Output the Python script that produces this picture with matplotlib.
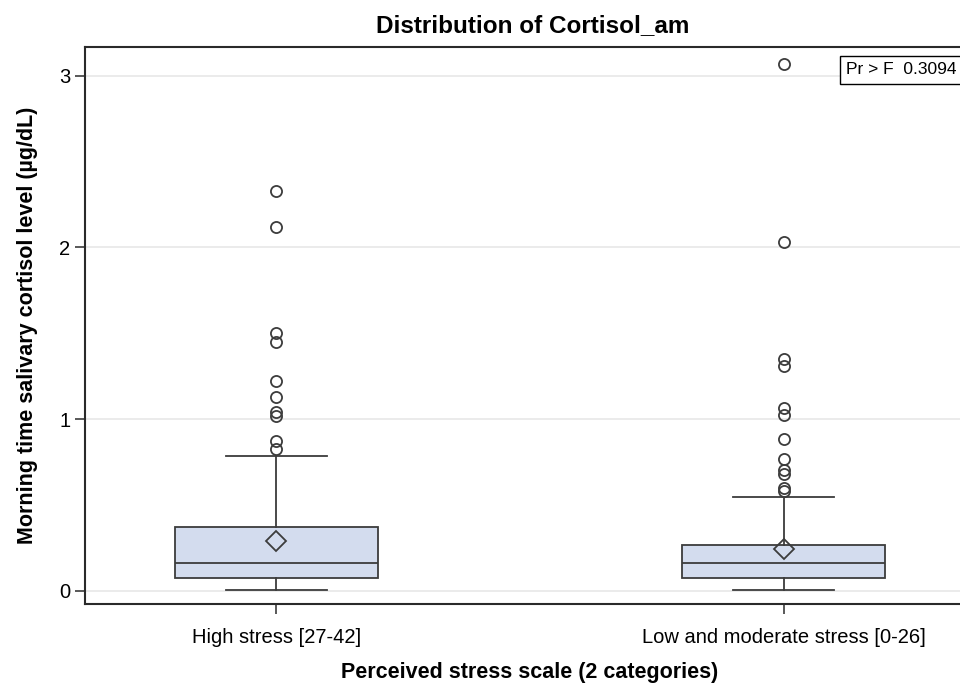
import matplotlib
matplotlib.use("Agg")
from matplotlib import pyplot as plt

plt.rcParams['font.family'] = ['Liberation Sans', 'DejaVu Sans']

groups = ["High stress [27-42]", "Low and moderate stress [0-26]"]
whislo = [0.004, 0.002]
q1 = [0.072, 0.075]
median = [0.163, 0.162]
q3 = [0.373, 0.266]
whishi = [0.785, 0.549]
means = [0.289, 0.241]
outliers = [
    [2.33, 2.117, 1.499, 1.450, 1.221, 1.126, 1.043, 1.017, 0.874, 0.827],
    [3.069, 2.029, 1.347, 1.312, 1.062, 1.025, 0.886, 0.767, 0.703, 0.682, 0.599, 0.580],
]
p_value = 0.3094

edge = "#3c3c3c"
fill = "#d3dcee"

stats = []
for i in range(len(groups)):
    stats.append({"label": groups[i], "whislo": whislo[i], "q1": q1[i], "med": median[i],
                  "q3": q3[i], "whishi": whishi[i], "fliers": outliers[i], "mean": means[i]})

fig = plt.figure(figsize=(9.6, 6.83), dpi=100)
ax = fig.add_axes([85/960, 79/683, 890/960, 557/683])

ax.bxp(stats, positions=[0, 1], widths=0.4, patch_artist=True, showmeans=True,
       boxprops=dict(facecolor=fill, edgecolor=edge, linewidth=1.3),
       medianprops=dict(color=edge, linewidth=1.3),
       whiskerprops=dict(color=edge, linewidth=1.3),
       capprops=dict(color=edge, linewidth=1.3), capwidths=0.2,
       flierprops=dict(marker='o', markerfacecolor='none', markeredgecolor=edge,
                       markersize=8, markeredgewidth=1.3),
       meanprops=dict(marker='D', markerfacecolor='none', markeredgecolor=edge,
                      markersize=10, markeredgewidth=1.3),
       zorder=3)

ax.set_xlim(-0.377, 1.377)
ax.set_ylim(-0.077, 3.167)
ax.set_yticks([0, 1, 2, 3])
ax.set_xticks([0, 1])
ax.set_xticklabels(groups)
ax.yaxis.grid(True, color="#e8e8e8", linewidth=1.2, zorder=0)
ax.set_axisbelow(True)
ax.tick_params(axis='both', labelsize=14.5, length=7, width=1.2, color=edge, direction='out')
ax.tick_params(axis='x', pad=10)
for s in ax.spines.values():
    s.set_linewidth(1.5)
    s.set_color("#2a2a2a")

ax.set_ylabel("Morning time salivary cortisol level (µg/dL)", fontsize=15.5, fontweight='bold', labelpad=15)
ax.set_xlabel("Perceived stress scale (2 categories)", fontsize=15.5, fontweight='bold', labelpad=11)
fig.text(533/960, 1 - 26/683, "Distribution of Cortisol_am", fontsize=17.5, fontweight='bold',
         ha='center', va='center')

ax.annotate("Pr > F  %.4f" % p_value, xy=(846/960, 1 - 70/683), xycoords='figure fraction',
            ha='left', va='center', fontsize=12.5,
            bbox=dict(boxstyle='square,pad=0.35', facecolor='white', edgecolor='black', linewidth=1))

fig.savefig("out.png", dpi=100)
